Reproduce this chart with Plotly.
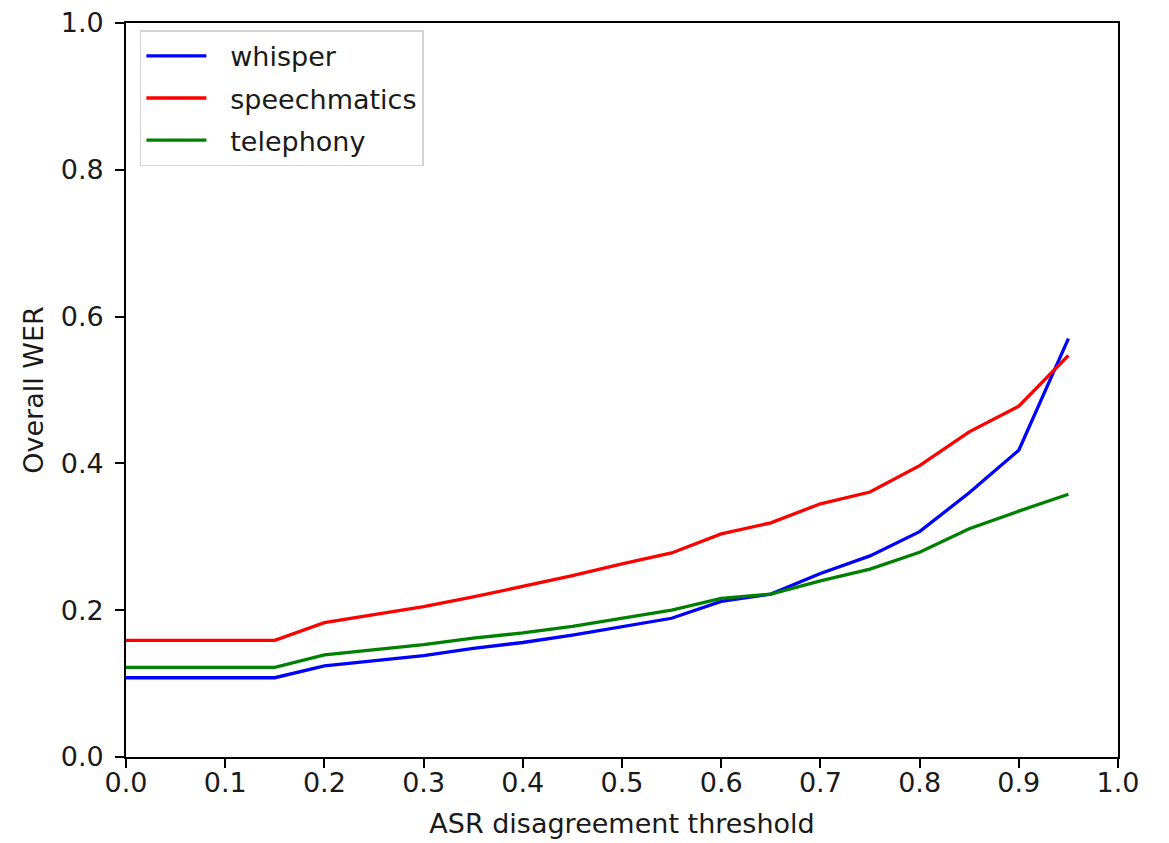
import plotly.graph_objects as go

thresholds = [0.0, 0.05, 0.1, 0.15, 0.2, 0.25, 0.3, 0.35, 0.4, 0.45,
              0.5, 0.55, 0.6, 0.65, 0.7, 0.75, 0.8, 0.85, 0.9, 0.95]
whisper = [0.108, 0.108, 0.108, 0.108, 0.124, 0.131, 0.138, 0.148, 0.156, 0.166,
           0.177, 0.189, 0.212, 0.222, 0.250, 0.274, 0.307, 0.360, 0.418, 0.570]
speechmatics = [0.159, 0.159, 0.159, 0.159, 0.183, 0.194, 0.205, 0.218, 0.232, 0.247,
                0.263, 0.278, 0.304, 0.319, 0.345, 0.361, 0.397, 0.443, 0.478, 0.547]
telephony = [0.122, 0.122, 0.122, 0.122, 0.139, 0.146, 0.153, 0.162, 0.169, 0.178,
             0.189, 0.200, 0.216, 0.222, 0.240, 0.256, 0.279, 0.311, 0.335, 0.358]

series = [("whisper", whisper, "#0000ff"),
          ("speechmatics", speechmatics, "#ff0000"),
          ("telephony", telephony, "#008000")]

FONT = "DejaVu Sans"
FS = 27
TXT = "#1a1a1a"
PAD = "\u2002\u2009"  # small gap between legend line sample and label
fig = go.Figure()
for name, vals, col in series:
    fig.add_trace(go.Scatter(x=thresholds, y=vals, mode="lines", name=PAD + name,
                             legendgroup=name,
                             line=dict(color=col, width=3.3)))

axis_common = dict(showline=True, mirror=True, linecolor="black", linewidth=1.6,
                   ticks="outside", ticklen=9, tickwidth=1.6, tickcolor="black",
                   showgrid=False, zeroline=False, ticklabeloverflow="allow",
                   tickfont=dict(family=FONT, size=FS, color=TXT))

fig.update_xaxes(range=[0, 1], dtick=0.1, tick0=0, tickformat=".1f",
                 ticklabelstandoff=-8,
                 title=dict(text="ASR disagreement threshold", standoff=17,
                            font=dict(family=FONT, size=FS, color=TXT)),
                 **axis_common)
fig.update_yaxes(range=[0, 1], dtick=0.2, tick0=0, tickformat=".1f",
                 ticklabelstandoff=6,
                 title=dict(text="Overall WER", standoff=9,
                            font=dict(family=FONT, size=FS, color=TXT)),
                 **axis_common)

fig.update_layout(
    width=1169, height=843,
    margin=dict(l=118, r=59, t=15, b=94, autoexpand=False),
    plot_bgcolor="white", paper_bgcolor="white",
    font=dict(family=FONT, size=FS, color=TXT),
    legend=dict(x=0.014, y=0.99, xanchor="left", yanchor="top",
                bgcolor="rgba(255,255,255,0.8)", bordercolor="#d4d4d4", borderwidth=1.5,
                font=dict(family=FONT, size=FS, color=TXT),
                tracegroupgap=4, itemwidth=60),
    showlegend=True,
)

fig.write_html("out.html")
